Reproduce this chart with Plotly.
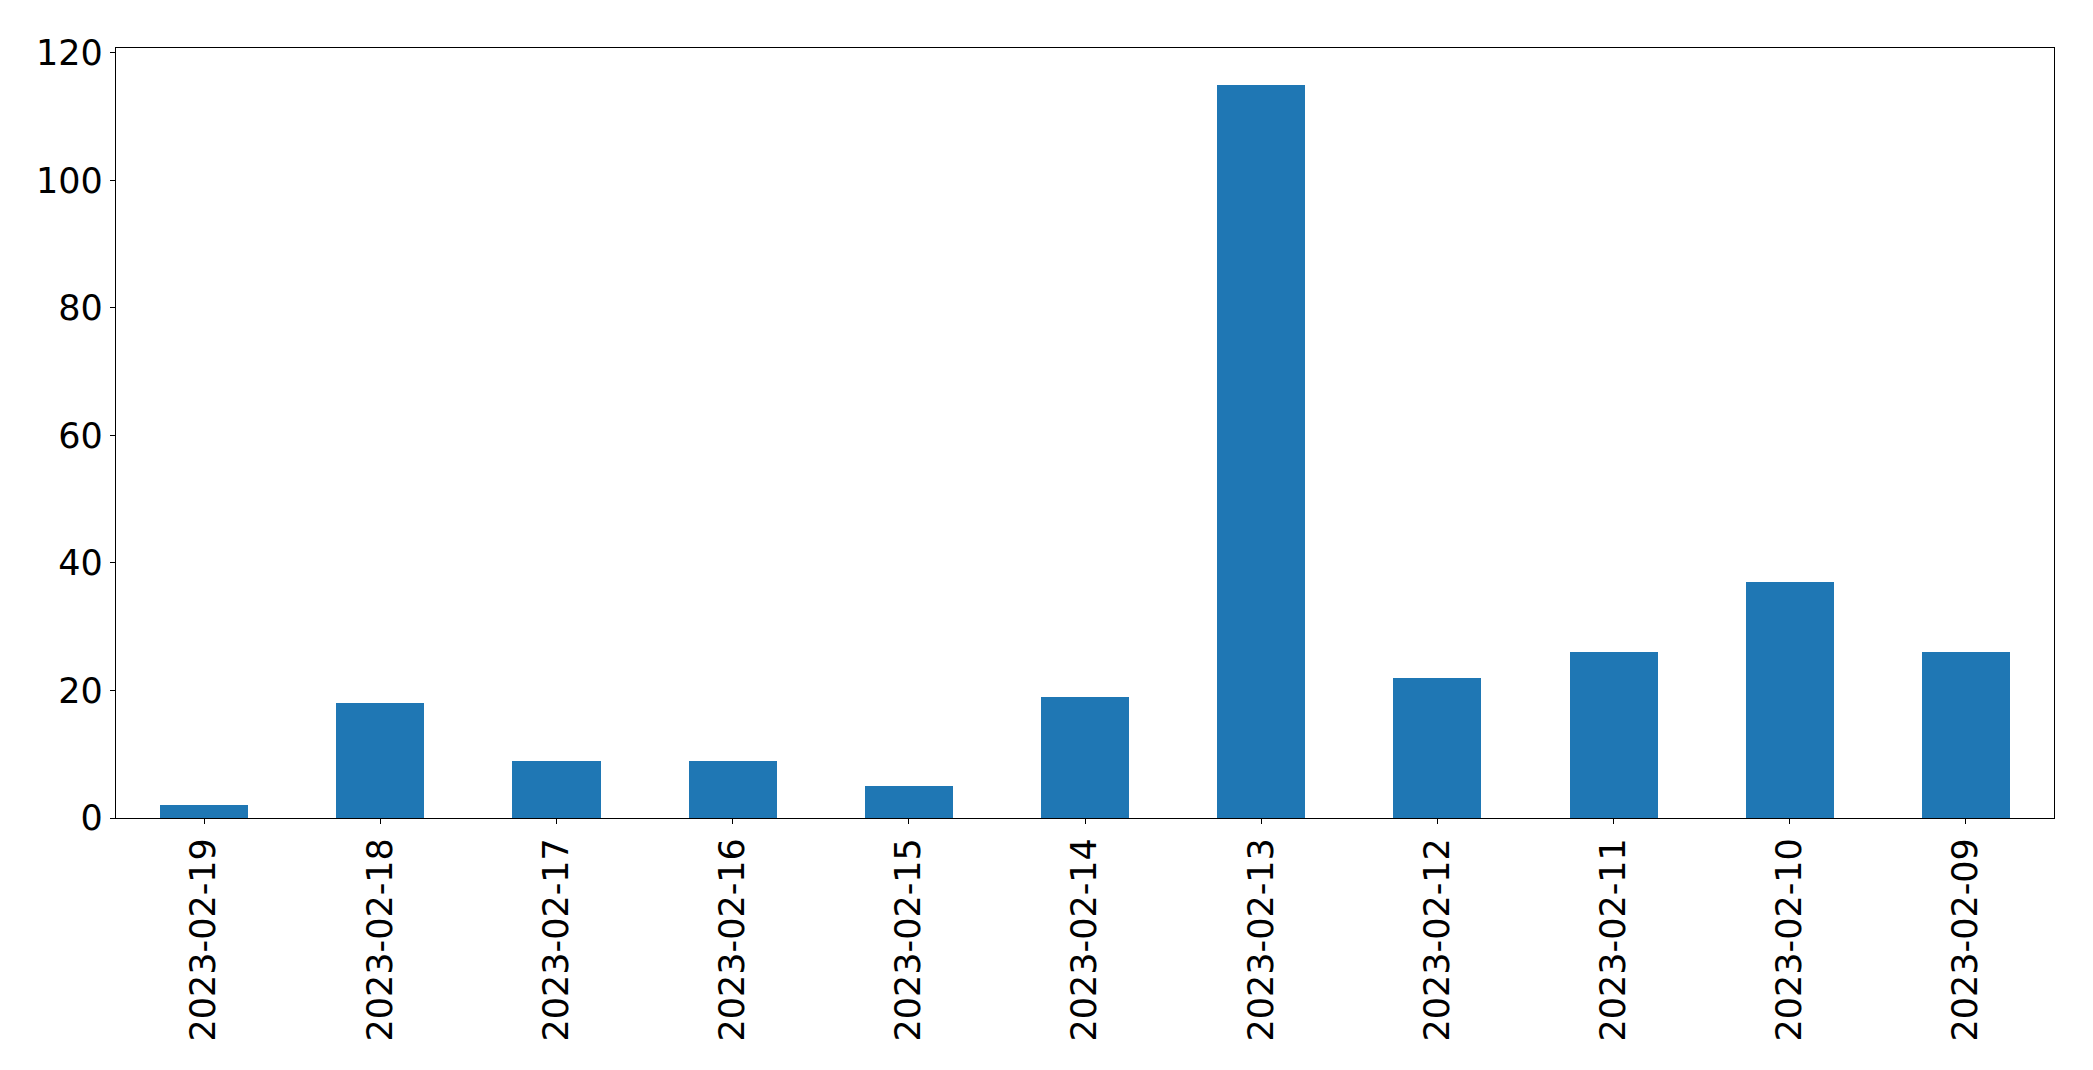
import plotly.graph_objects as go

dates = ["2023-02-19", "2023-02-18", "2023-02-17", "2023-02-16", "2023-02-15",
         "2023-02-14", "2023-02-13", "2023-02-12", "2023-02-11", "2023-02-10", "2023-02-09"]
counts = [2, 18, 9, 9, 5, 19, 115, 22, 26, 37, 26]
y_ticks = [0, 20, 40, 60, 80, 100, 120]

fig = go.Figure(go.Bar(x=dates, y=counts, width=0.5, marker=dict(color="#1f77b4", line=dict(width=0))))

axis_common = dict(showline=True, linecolor="black", linewidth=1.3, mirror=True,
                   ticks="outside", ticklen=5, tickwidth=1.3, tickcolor="black",
                   showgrid=False, zeroline=False,
                   tickfont=dict(family="DejaVu Sans", size=35, color="black"))

fig.update_layout(
    width=2085, height=1062,
    margin=dict(l=108, r=39, t=40, b=252, autoexpand=False),
    paper_bgcolor="white", plot_bgcolor="white",
    showlegend=False,
    bargap=0,
    xaxis=dict(type="category", range=[-0.5, 10.5], tickangle=-90, **axis_common),
    yaxis=dict(range=[0, 120.75], tickvals=y_ticks, **axis_common),
)

fig.write_html("out.html")
